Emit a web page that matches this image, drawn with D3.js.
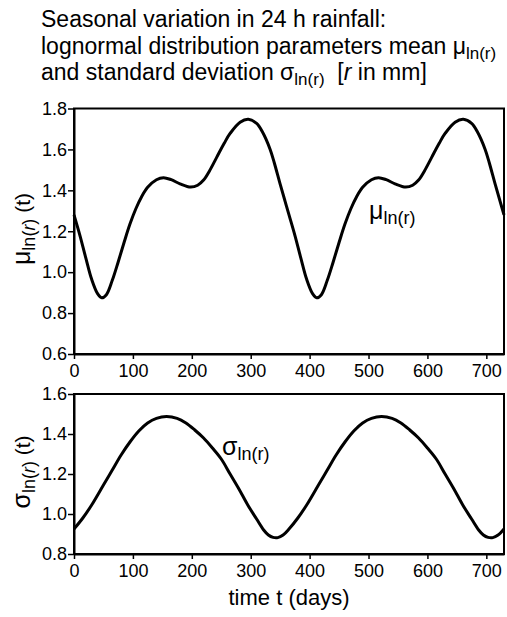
<!DOCTYPE html>
<html>
<head>
<meta charset="utf-8">
<script src="https://cdn.jsdelivr.net/npm/d3@7"></script>
<style>
  body { margin: 0; background: #fff; }
  svg text { font-family: "Liberation Sans", Arial, Helvetica, sans-serif; fill: #000; white-space: pre; }
</style>
</head>
<body>
<div id="plot"></div>
<script>
// time axis ticks (days)
const dayTicks = [0, 100, 200, 300, 400, 500, 600, 700]
const muTicks = [0.6, 0.8, 1.0, 1.2, 1.4, 1.6, 1.8]
const sigmaTicks = [0.8, 1.0, 1.2, 1.4, 1.6]

// mean of ln(r)
const muDays = [0, 10, 20, 30, 40, 47, 55, 65, 75, 85, 95, 105, 115, 125, 140, 152, 165, 180, 198, 210,
  220, 230, 242, 255, 265, 282, 296, 310, 320, 333, 340, 350, 358, 365,
  375, 385, 395, 405, 412, 420, 430, 440, 450, 460, 470, 480, 490, 505, 517, 530, 545, 563, 575,
  585, 595, 607, 620, 630, 647, 661, 675, 685, 698, 705, 715, 723, 730]
const muValues = [1.28, 1.18, 1.07, 0.965, 0.895, 0.875, 0.89, 0.96, 1.05, 1.145, 1.235, 1.31, 1.37, 1.415, 1.452, 1.462, 1.452, 1.432, 1.416, 1.425,
  1.45, 1.495, 1.56, 1.63, 1.678, 1.733, 1.747, 1.727, 1.685, 1.60, 1.535, 1.43, 1.35, 1.28,
  1.18, 1.07, 0.965, 0.895, 0.875, 0.89, 0.96, 1.05, 1.145, 1.235, 1.31, 1.37, 1.415, 1.452, 1.462, 1.452, 1.432, 1.416, 1.425,
  1.45, 1.495, 1.56, 1.63, 1.678, 1.733, 1.747, 1.727, 1.685, 1.60, 1.535, 1.43, 1.35, 1.28]

// standard deviation of ln(r)
const sigmaDays = [0, 15, 30, 50, 65, 80, 95, 110, 125, 140, 157, 175, 190, 205, 220, 235, 250, 265, 280, 295, 310, 322, 330, 338, 346, 355, 365,
  380, 395, 415, 430, 445, 460, 475, 490, 505, 522, 540, 555, 570, 585, 600, 615, 630, 645, 660, 675, 687, 695, 703, 711, 720, 730]
const sigmaValues = [0.925, 0.98, 1.045, 1.145, 1.22, 1.295, 1.36, 1.415, 1.455, 1.478, 1.487, 1.478, 1.455, 1.42, 1.38, 1.33, 1.275, 1.20, 1.125, 1.045, 0.975, 0.92, 0.895, 0.883, 0.882, 0.895, 0.925,
  0.98, 1.045, 1.145, 1.22, 1.295, 1.36, 1.415, 1.455, 1.478, 1.487, 1.478, 1.455, 1.42, 1.38, 1.33, 1.275, 1.20, 1.125, 1.045, 0.975, 0.92, 0.895, 0.883, 0.882, 0.895, 0.925]

const width = 507
const height = 617

const svg = d3.select('#plot')
  .append('svg')
  .attr('width', width)
  .attr('height', height)

// title
const title = svg.append('text').attr('x', 41).attr('y', 27).style('font-size', '23px')
title.append('tspan').text('Seasonal variation in 24 h rainfall:')
const t2 = svg.append('text').attr('x', 41).attr('y', 54).style('font-size', '23px')
t2.append('tspan').text('lognormal distribution parameters mean μ')
t2.append('tspan').attr('dy', 5).style('font-size', '17px').text('ln(r)')
const t3 = svg.append('text').attr('x', 41).attr('y', 80).style('font-size', '23px')
t3.append('tspan').text('and standard deviation σ')
t3.append('tspan').attr('dy', 5).style('font-size', '17px').text('ln(r)')
t3.append('tspan').attr('dy', -5).text('  [')
t3.append('tspan').style('font-style', 'italic').text('r')
t3.append('tspan').text(' in mm]')

const x = d3.scaleLinear().domain([0, 730]).range([74, 504])

function panel(top, bottom, domain, ticks, days, values) {
  const y = d3.scaleLinear().domain(domain).range([bottom, top])
  const g = svg.append('g')

  // frame
  g.append('rect')
    .attr('x', x(0)).attr('y', top)
    .attr('width', x(730) - x(0)).attr('height', bottom - top)
    .attr('fill', 'none').attr('stroke', '#000').attr('stroke-width', 2)

  const ax = g.append('g')
    .attr('transform', 'translate(0,' + bottom + ')')
    .call(d3.axisBottom(x).tickValues(dayTicks).tickSize(5).tickPadding(5).tickSizeOuter(0))
  const ay = g.append('g')
    .attr('transform', 'translate(' + x(0) + ',0)')
    .call(d3.axisLeft(y).tickValues(ticks).tickFormat(d3.format('.1f')).tickSize(6).tickPadding(1).tickSizeOuter(0))
  ;[ax, ay].forEach(a => {
    a.select('.domain').attr('stroke-width', 2)
    a.selectAll('line').attr('stroke-width', 1.5)
    a.selectAll('text').style('font-size', '18px').attr('font-family', null)
  })

  const pts = days.map((d, i) => [d, values[i]])
  g.append('path')
    .datum(pts)
    .attr('fill', 'none')
    .attr('stroke', '#000')
    .attr('stroke-width', 3)
    .attr('d', d3.line().x(d => x(d[0])).y(d => y(d[1])).curve(d3.curveCatmullRom))
  return y
}

panel(108.5, 354, [0.6, 1.8], muTicks, muDays, muValues)
panel(394, 554, [0.8, 1.6], sigmaTicks, sigmaDays, sigmaValues)

// y axis labels
function yLabel(cx, cy, sym) {
  const t = svg.append('text')
    .attr('transform', 'translate(' + cx + ',' + cy + ') rotate(-90)')
    .attr('text-anchor', 'middle')
    .style('font-size', '25px')
  t.append('tspan').text(sym)
  t.append('tspan').attr('dy', 5).style('font-size', '18px').text('ln(')
  t.append('tspan').style('font-size', '18px').style('font-style', 'italic').text('r')
  t.append('tspan').style('font-size', '18px').text(')')
  t.append('tspan').attr('dy', -5).style('font-size', '21px').text(' (t)')
}
yLabel(30, 229, 'μ')
yLabel(30, 472, 'σ')

// curve labels
function curveLabel(px, py, sym) {
  const t = svg.append('text').attr('x', px).attr('y', py).style('font-size', '25px')
  t.append('tspan').text(sym)
  t.append('tspan').attr('dy', 5).style('font-size', '18px').text('ln(r)')
}
curveLabel(369, 219, 'μ')
curveLabel(222, 455, 'σ')

// x axis title
svg.append('text')
  .attr('x', (x(0) + x(730)) / 2)
  .attr('y', 605)
  .attr('text-anchor', 'middle')
  .style('font-size', '22px')
  .text('time t (days)')
</script>
</body>
</html>
